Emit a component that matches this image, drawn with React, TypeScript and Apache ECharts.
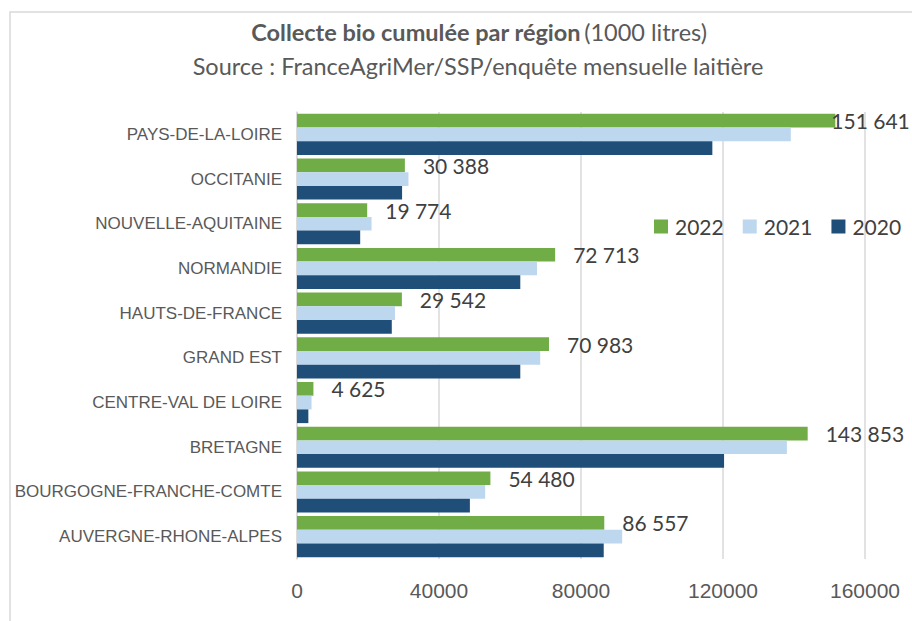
import React, { useEffect, useRef } from "react";
import * as echarts from "echarts";

const categories = [
  "AUVERGNE-RHONE-ALPES",
  "BOURGOGNE-FRANCHE-COMTE",
  "BRETAGNE",
  "CENTRE-VAL DE LOIRE",
  "GRAND EST",
  "HAUTS-DE-FRANCE",
  "NORMANDIE",
  "NOUVELLE-AQUITAINE",
  "OCCITANIE",
  "PAYS-DE-LA-LOIRE",
];
const values2022 = [86557, 54480, 143853, 4625, 70983, 29542, 72713, 19774, 30388, 151641];
const values2021 = [91600, 53000, 138000, 4100, 68500, 27600, 67600, 21000, 31400, 139100];
const values2020 = [86400, 48700, 120300, 3200, 62900, 26700, 62900, 17800, 29600, 117000];
const xTicks = [0, 40000, 80000, 120000, 160000];

const fmt = (v: number) => String(v).replace(/\B(?=(\d{3})+(?!\d))/g, " ");

export default function App() {
  const ref = useRef<HTMLDivElement>(null);
  useEffect(() => {
    if (!ref.current) return;
    const chart = echarts.init(ref.current, null, { renderer: "svg" });
    const labelData = values2022.map((v, i) =>
      i === categories.length - 1 ? { value: v, label: { distance: -4 } } : v
    );
    chart.setOption({
      animation: false,
      backgroundColor: "#ffffff",
      graphic: [
        {
          type: "rect",
          shape: { x: 10, y: 12, width: 1000, height: 1000 },
          style: { fill: "none", stroke: "#d9d9d9", lineWidth: 1.5 },
          silent: true,
        },
        {
          type: "text",
          x: 479,
          y: 32,
          silent: true,
          style: {
            text: "{b|Collecte bio cumulée par région} {n|(1000 litres)}",
            align: "center",
            verticalAlign: "middle",
            rich: {
              b: { fontFamily: "Lato", fontSize: 23.5, fontWeight: "bold", fill: "#595959" },
              n: { fontFamily: "Lato", fontSize: 23.5, fontWeight: "normal", fill: "#595959" },
            },
          },
        },
        {
          type: "text",
          x: 478,
          y: 66,
          silent: true,
          style: {
            text: "Source : FranceAgriMer/SSP/enquête mensuelle laitière",
            align: "center",
            verticalAlign: "middle",
            fontFamily: "Lato",
            fontSize: 23.5,
            fill: "#595959",
          },
        },
      ],
      legend: {
        data: ["2022", "2021", "2020"],
        left: 649,
        top: 211,
        itemWidth: 14,
        itemHeight: 14,
        itemGap: 19,
        icon: "rect",
        textStyle: { fontFamily: "Lato", fontSize: 21, color: "#404040", padding: [0, 0, 0, 2] },
      },
      grid: { left: 297, right: 47, top: 112, bottom: 62, containLabel: false },
      xAxis: {
        type: "value",
        min: 0,
        max: 160000,
        interval: 40000,
        axisLine: { show: false },
        axisTick: { show: false },
        splitLine: { show: true, lineStyle: { color: "#d9d9d9", width: 1.5 } },
        axisLabel: {
          fontFamily: "Liberation Sans",
          fontSize: 21,
          color: "#595959",
          margin: 21,
          formatter: (v: number) => (xTicks.includes(v) ? String(v) : ""),
        },
      },
      yAxis: {
        type: "category",
        data: categories,
        axisLine: { show: true, lineStyle: { color: "#d9d9d9", width: 1.5 } },
        axisTick: { show: false },
        axisLabel: {
          fontFamily: "Liberation Sans",
          fontSize: 17,
          color: "#595959",
          margin: 15,
        },
      },
      series: [
        {
          name: "2022",
          type: "bar",
          data: labelData,
          itemStyle: { color: "#70ad47" },
          barGap: "0%",
          barCategoryGap: "8%",
          label: {
            show: true,
            position: "right",
            distance: 18,
            fontFamily: "Lato",
            fontSize: 21,
            color: "#404040",
            formatter: (p: any) => fmt(p.value),
          },
        },
        {
          name: "2021",
          type: "bar",
          data: values2021,
          itemStyle: { color: "#bdd7ee" },
          barGap: "0%",
          barCategoryGap: "8%",
        },
        {
          name: "2020",
          type: "bar",
          data: values2020,
          itemStyle: { color: "#1f4e79" },
          barGap: "0%",
          barCategoryGap: "8%",
        },
      ],
    });
    return () => chart.dispose();
  }, []);
  return (
    <div
      ref={ref}
      style={{ position: "fixed", left: 0, top: 0, width: 912, height: 621 }}
    />
  );
}
